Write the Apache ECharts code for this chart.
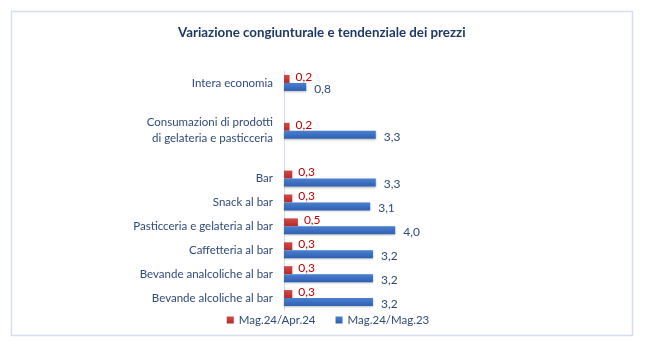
<!DOCTYPE html>
<html><head><meta charset="utf-8">
<script src="https://cdn.jsdelivr.net/npm/echarts@6/dist/echarts.min.js"></script>
<style>html,body{margin:0;padding:0;background:#fff}#c{width:656px;height:356px}</style>
</head><body><div id="c"></div>
<script>
const categories = ['Bevande alcoliche al bar','Bevande analcoliche al bar','Caffetteria al bar','Pasticceria e gelateria al bar','Snack al bar','Bar','','Consumazioni di prodotti\ndi gelateria e pasticceria','','Intera economia'];
const congiunturale = [0.3,0.3,0.3,0.5,0.3,0.3,null,0.2,null,0.2];
const tendenziale = [3.2,3.2,3.2,4.0,3.1,3.3,null,3.3,null,0.8];
const seriesNames = ['Mag.24/Apr.24','Mag.24/Mag.23'];
const FONT = 'Lato';
const fmt = p => p.value == null ? '' : p.value.toFixed(1).replace('.', ',');
const grad = (top, bot) => new echarts.graphic.LinearGradient(0,0,0,1,[{offset:0,color:top},{offset:1,color:bot}]);
const chart = echarts.init(document.getElementById('c'));
chart.setOption({
  animation:false,
  graphic:[{type:'rect',shape:{x:11.5,y:11.5,width:621,height:324},style:{fill:null,stroke:'#D5DFF0',lineWidth:1.5},z:-1}],
  title:{text:'Variazione congiunturale e tendenziale dei prezzi',left:173,top:21,textStyle:{fontFamily:FONT,fontSize:13.3,fontWeight:'bold',color:'#1F3864'}},
  legend:{bottom:25,left:'center',itemWidth:7,itemHeight:7,itemGap:20,icon:'rect',textStyle:{fontFamily:FONT,fontSize:11.5,color:'#2F4A7A'},data:seriesNames},
  grid:{left:284,right:94,top:71,bottom:46},
  xAxis:{type:'value',min:0,max:10,show:false},
  yAxis:{type:'category',data:categories,axisTick:{show:false},axisLine:{lineStyle:{color:'#D0DAEC',width:1}},
    axisLabel:{fontFamily:FONT,fontSize:11.5,color:'#2F4A7A',margin:11,lineHeight:16}},
  series:[
    {name:seriesNames[0],type:'bar',data:congiunturale,barWidth:8,barGap:'0%',
      itemStyle:{color:grad('#D04A48','#B52A2A')},
      label:{show:true,position:'right',distance:6,offset:[0,-2],formatter:fmt,fontFamily:FONT,fontSize:12,color:'#C00000'}},
    {name:seriesNames[1],type:'bar',data:tendenziale,barWidth:8,
      itemStyle:{color:grad('#4A7FD0','#3060B0'),shadowColor:'rgba(0,0,0,0.25)',shadowBlur:2,shadowOffsetY:1},
      label:{show:true,position:'right',distance:8,offset:[0,2],formatter:fmt,fontFamily:FONT,fontSize:12,color:'#2F4A7A'}}
  ]
});
</script></body></html>
